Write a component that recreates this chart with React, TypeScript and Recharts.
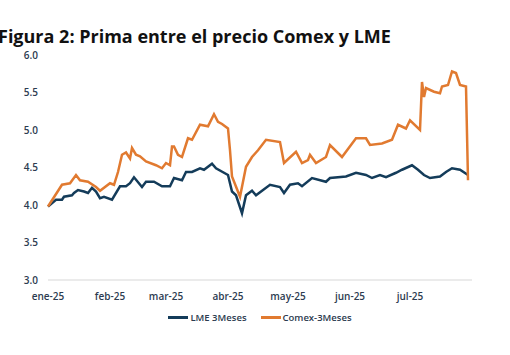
import { LineChart, Line, XAxis, YAxis, Legend } from "recharts";

// day index counted from 1 Jan 2025
const monthTicks = [0, 31, 59, 90, 120, 151, 181];
const monthLabels = ["ene-25", "feb-25", "mar-25", "abr-25", "may-25", "jun-25", "jul-25"];
const yTicks = [3.0, 3.5, 4.0, 4.5, 5.0, 5.5, 6.0];

const lmeDays = [0, 4, 7, 8, 12, 13, 15, 18, 20, 22, 24, 26, 28, 32, 36, 39, 41, 43, 47, 49, 53, 57, 61, 63, 67, 69, 72, 76, 78, 82, 84, 90, 92, 94, 97, 99, 102, 104, 111, 116, 118, 121, 125, 127, 132, 139, 141, 149, 154, 159, 162, 166, 169, 174, 177, 182, 185, 188, 191, 196, 199, 202, 206, 210];
const lmeValues = [3.98, 4.07, 4.07, 4.11, 4.13, 4.16, 4.2, 4.18, 4.16, 4.23, 4.18, 4.09, 4.11, 4.07, 4.25, 4.25, 4.29, 4.37, 4.24, 4.31, 4.31, 4.25, 4.25, 4.36, 4.33, 4.44, 4.44, 4.49, 4.47, 4.55, 4.49, 4.4, 4.18, 4.13, 3.89, 4.13, 4.19, 4.13, 4.27, 4.24, 4.16, 4.27, 4.29, 4.25, 4.36, 4.31, 4.36, 4.38, 4.43, 4.4, 4.36, 4.4, 4.37, 4.43, 4.47, 4.53, 4.47, 4.4, 4.36, 4.38, 4.44, 4.49, 4.47, 4.4];

const comexDays = [0, 7, 11, 14, 16, 20, 24, 26, 31, 33, 35, 37, 39, 41, 42, 44, 46, 49, 54, 57, 59, 61, 62, 63, 65, 67, 70, 72, 76, 80, 83, 85, 87, 90, 91, 92, 96, 99, 102, 105, 109, 116, 118, 124, 127, 130, 131, 134, 139, 141, 147, 154, 159, 161, 167, 172, 175, 179, 181, 186, 187, 188, 189, 193, 196, 197, 200, 202, 204, 206, 209, 210];
const comexValues = [3.98, 4.27, 4.29, 4.4, 4.33, 4.31, 4.24, 4.19, 4.29, 4.27, 4.44, 4.67, 4.7, 4.62, 4.76, 4.67, 4.65, 4.58, 4.53, 4.49, 4.56, 4.53, 4.78, 4.78, 4.67, 4.64, 4.89, 4.87, 5.07, 5.05, 5.21, 5.11, 5.08, 5.02, 4.73, 4.38, 4.11, 4.51, 4.64, 4.73, 4.87, 4.84, 4.56, 4.71, 4.56, 4.6, 4.67, 4.56, 4.64, 4.8, 4.64, 4.89, 4.89, 4.8, 4.82, 4.87, 5.07, 5.02, 5.13, 5.0, 5.64, 5.44, 5.56, 5.51, 5.49, 5.58, 5.6, 5.78, 5.76, 5.6, 5.58, 4.33];

const lmeData = lmeDays.map((d, i) => ({ day: d, v: lmeValues[i] }));
const comexData = comexDays.map((d, i) => ({ day: d, v: comexValues[i] }));

const LME_COLOR = "#143C5A";
const COMEX_COLOR = "#E17A30";
const TEXT = "#2C3B50";
const FONT = "'Open Sans', sans-serif";

const legendItems = [
  { name: "LME 3Meses", color: LME_COLOR },
  { name: "Comex-3Meses", color: COMEX_COLOR },
];

function ChartLegend() {
  return (
    <div style={{ display: "flex", justifyContent: "center", gap: 14, fontFamily: FONT, fontSize: 9.5, fontWeight: 600, color: TEXT }}>
      {legendItems.map((it) => (
        <div key={it.name} style={{ display: "flex", alignItems: "center" }}>
          <span style={{ display: "inline-block", width: 20, height: 2.5, background: it.color, marginRight: 2 }} />
          <span>{it.name}</span>
        </div>
      ))}
    </div>
  );
}

export default function App() {
  return (
    <div style={{ position: "absolute", left: 0, top: 0, width: 510, height: 355, background: "#fff", overflow: "hidden" }}>
      <div
        style={{
          position: "absolute",
          left: -2,
          top: 24,
          fontFamily: FONT,
          fontWeight: 700,
          fontSize: 18,
          color: "#111",
          whiteSpace: "nowrap",
        }}
      >
        Figura 2: Prima entre el precio Comex y LME
      </div>
      <LineChart width={510} height={355} margin={{ top: 55, right: 38, left: 8, bottom: 35 }}>
        <XAxis
          dataKey="day"
          type="number"
          domain={[0, 212]}
          ticks={monthTicks}
          tickFormatter={(v: number) => monthLabels[monthTicks.indexOf(v)] ?? ""}
          axisLine={{ stroke: "#e4e4e4", strokeWidth: 1.5 }}
          tickLine={false}
          tickMargin={7}
          height={20}
          allowDuplicatedCategory={false}
          tick={{ fill: TEXT, fontSize: 10, fontFamily: FONT, fontWeight: 600 }}
        />
        <YAxis
          domain={[3, 6]}
          ticks={yTicks}
          width={40}
          axisLine={false}
          tickLine={false}
          tickMargin={4}
          tickFormatter={(v: number) => v.toFixed(1)}
          tick={{ fill: TEXT, fontSize: 10, fontFamily: FONT, fontWeight: 600 }}
        />
        <Legend
          verticalAlign="bottom"
          height={20}
          content={() => <ChartLegend />}
          wrapperStyle={{ top: 311, left: 0, width: 520 }}
        />
        <Line data={lmeData} dataKey="v" name="LME 3Meses" stroke={LME_COLOR} strokeWidth={2.5} dot={false} isAnimationActive={false} type="linear" />
        <Line data={comexData} dataKey="v" name="Comex-3Meses" stroke={COMEX_COLOR} strokeWidth={2.5} dot={false} isAnimationActive={false} type="linear" />
      </LineChart>
    </div>
  );
}
